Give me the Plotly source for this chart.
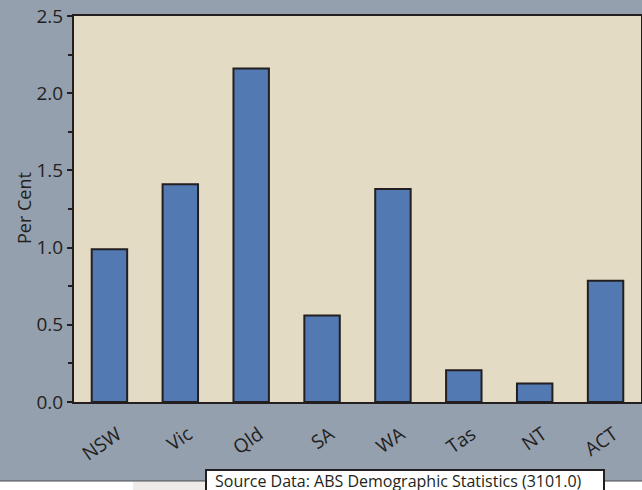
import plotly.graph_objects as go

states = ["NSW", "Vic", "Qld", "SA", "WA", "Tas", "NT", "ACT"]
growth = [0.99, 1.41, 2.16, 0.56, 1.38, 0.205, 0.12, 0.785]
y_ticks = [0.0, 0.5, 1.0, 1.5, 2.0, 2.5]
y_tick_labels = ["0.0", "0.5", "1.0", "1.5", "2.0", "2.5"]
y_title = "Per Cent"
source_text = "Source Data: ABS Demographic Statistics (3101.0)"

DARK = "#231f20"
FONT = "Open Sans, Noto Sans, DejaVu Sans, sans-serif"

fig = go.Figure(go.Bar(
    x=states, y=growth,
    marker=dict(color="#5279b2", line=dict(color=DARK, width=2)),
))

# pixel helpers for paper coords (plot area 74..641 x, 16..402 y)
L, R, T, B = 74, 641, 16, 402
def px(x):
    return (x - L) / (R - L)
def py(y):
    return (B - y) / (B - T)

fig.update_layout(
    width=642, height=490,
    margin=dict(l=L, r=642 - R, t=T, b=490 - B, pad=0, autoexpand=False),
    paper_bgcolor="#94a0ae",
    plot_bgcolor="#e3dbc3",
    bargap=0.5,
    showlegend=False,
    font=dict(family=FONT, color=DARK, size=18),
    xaxis=dict(
        showline=True, linecolor=DARK, linewidth=2, mirror=True,
        ticks="", tickangle=-35, tickfont=dict(size=19),
        ticklabelstandoff=12, ticklabelshift=8,
        showgrid=False, fixedrange=True, automargin=False,
    ),
    yaxis=dict(
        range=[0, 2.5], tickvals=y_ticks, ticktext=y_tick_labels,
        showline=True, linecolor=DARK, linewidth=2, mirror=True,
        ticks="outside", ticklen=5, tickwidth=1.5, tickcolor=DARK,
        minor=dict(dtick=0.25, ticks="outside", ticklen=4, tickcolor=DARK, tickwidth=1.5),
        showgrid=False, zeroline=False, tickfont=dict(size=19),
        automargin=False, fixedrange=True,
    ),
    shapes=[
        dict(type="rect", xref="paper", yref="paper", layer="above",
             x0=px(0), x1=px(642), y0=py(491), y1=py(481),
             fillcolor="#ffffff", line=dict(width=0)),
        dict(type="rect", xref="paper", yref="paper", layer="above",
             x0=px(133), x1=px(205), y0=py(491), y1=py(481.5),
             fillcolor="#efebe9", line=dict(width=0)),
        dict(type="line", xref="paper", yref="paper", layer="above",
             x0=px(0), x1=px(642), y0=py(481), y1=py(481),
             line=dict(color="#4a4a4a", width=1)),
        dict(type="rect", xref="paper", yref="paper", layer="above",
             x0=px(206), x1=px(604), y0=py(498), y1=py(470),
             fillcolor="#ffffff", line=dict(color=DARK, width=2)),
    ],
    annotations=[
        dict(xref="paper", yref="paper", x=px(213), y=py(480.5),
             xanchor="left", yanchor="middle", text=source_text,
             showarrow=False, align="left",
             font=dict(size=16, color=DARK, family=FONT)),
        dict(xref="paper", yref="paper", x=px(24), y=py(208),
             xanchor="center", yanchor="middle", text=y_title, textangle=-90,
             showarrow=False, font=dict(size=18, color=DARK, family=FONT)),
    ],
)

fig.write_html(
    "out.html",
    config={"displayModeBar": False},
    post_script="document.body.style.margin='0';document.body.style.overflow='hidden';",
)
